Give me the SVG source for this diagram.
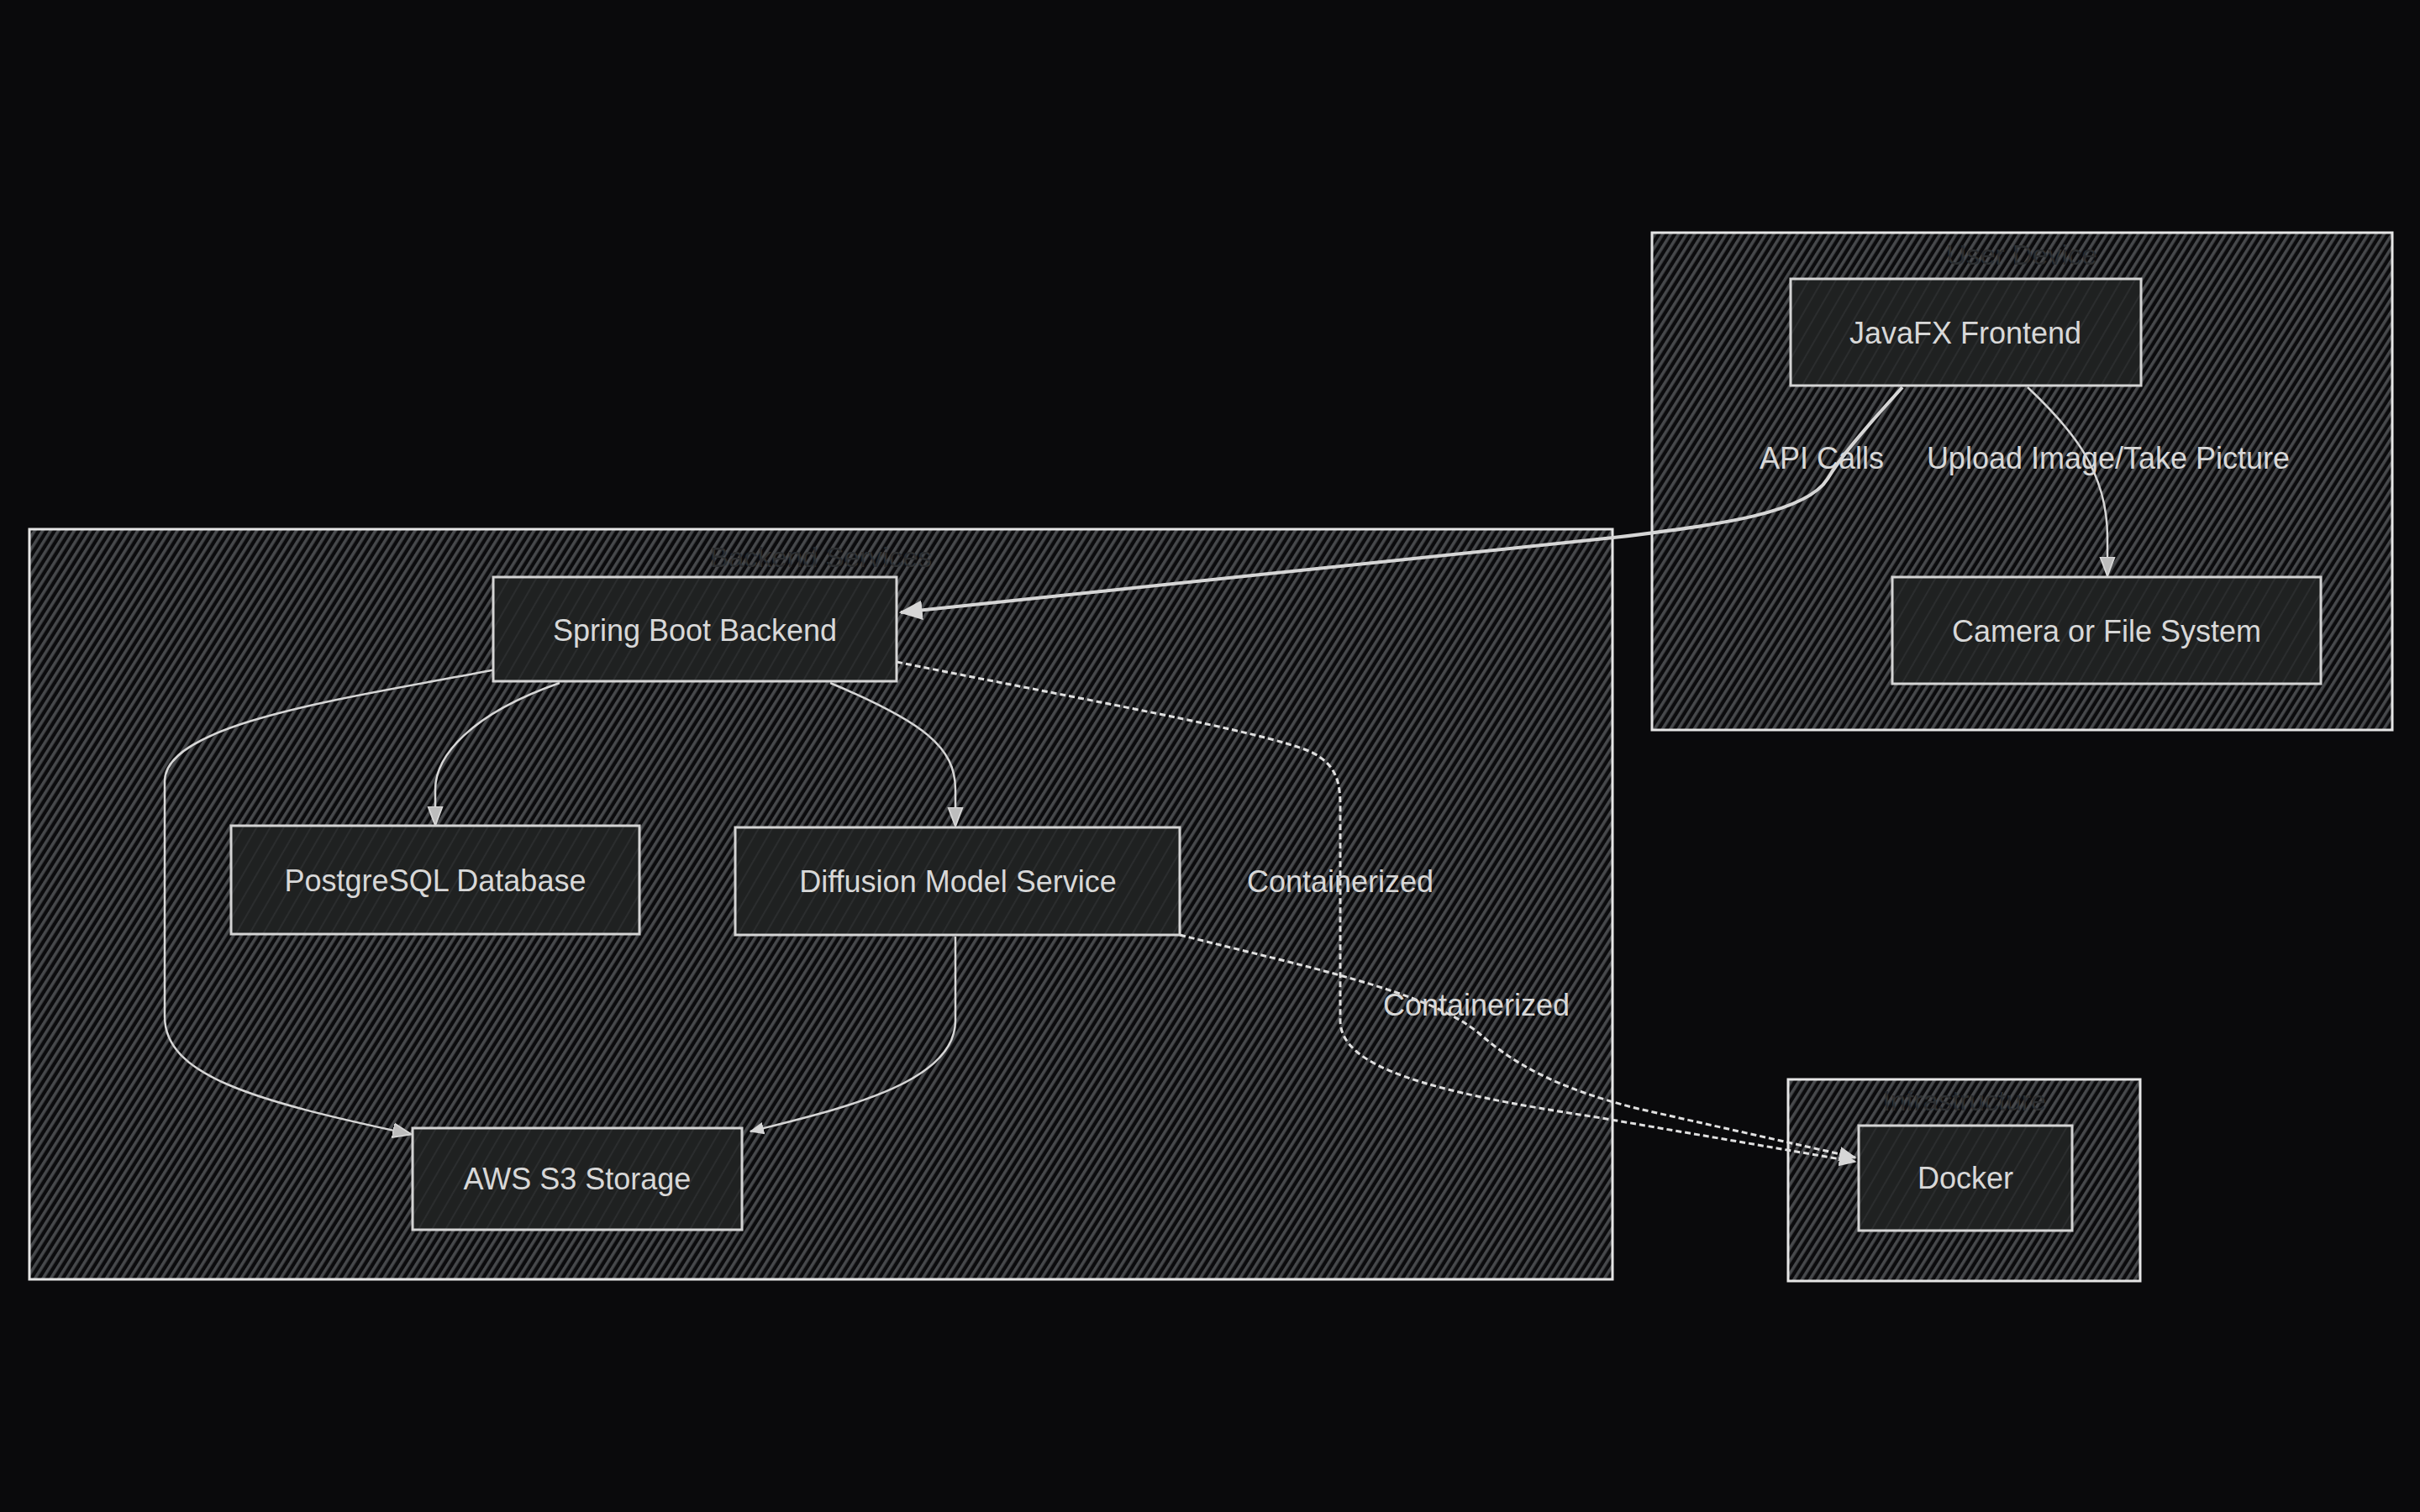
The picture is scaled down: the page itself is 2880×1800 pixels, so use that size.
<svg xmlns="http://www.w3.org/2000/svg" width="2880" height="1800" viewBox="0 0 2880 1800">
<style>
.cluster{fill:url(#hatch);stroke:#e6e6e6;stroke-width:3}
.ctitle{font-family:"Liberation Sans",Arial,sans-serif;font-size:33px;fill:#2c2e30;text-anchor:middle;dominant-baseline:central}
.node rect{fill:url(#nodehatch);stroke:#d4d4d4;stroke-width:3}
.label{font-family:"Liberation Sans",Arial,sans-serif;font-size:36px;fill:#d8d8d8;text-anchor:middle;dominant-baseline:central}
.edge{fill:none;stroke:#d6d6d6;stroke-width:2.5}
.thick{stroke-width:4}
.dash{stroke-dasharray:7 4;stroke-width:3;stroke:#e0e0e0}
.elabel{font-family:"Liberation Sans",Arial,sans-serif;font-size:36px;fill:#d8d8d8;text-anchor:middle;dominant-baseline:central}
</style>
<defs>
<pattern id="hatch" patternUnits="userSpaceOnUse" width="8" height="8" patternTransform="rotate(32)">
<rect width="8" height="8" fill="#0b0b0d"/>
<rect width="3.6" height="8" fill="#47494c"/>
</pattern>
<pattern id="nodehatch" patternUnits="userSpaceOnUse" width="14" height="14" patternTransform="rotate(30)">
<rect width="14" height="14" fill="#1f2121"/>
<rect width="2" height="14" fill="#2b2d2e"/>
</pattern>
<marker id="arr" viewBox="0 0 12 12" refX="11" refY="6" markerWidth="7" markerHeight="7" orient="auto" markerUnits="strokeWidth">
<path d="M0,1 L12,6 L0,11 Z" fill="#d6d6d6"/>
</marker>
<marker id="arrs" viewBox="0 0 12 12" refX="11" refY="6" markerWidth="9" markerHeight="9" orient="auto" markerUnits="strokeWidth">
<path d="M0,1.5 L12,6 L0,10.5 Z" fill="#bdbdbd" stroke="#d6d6d6" stroke-width="1"/>
</marker>
</defs>
<rect width="2880" height="1800" fill="#0a0a0c"/>

<g id="cluster-backend">
<rect class="cluster" x="35" y="630" width="1884" height="893"/>
<text class="ctitle" x="977" y="663">Backend Services</text>
</g>
<g id="cluster-userdevice">
<rect class="cluster" x="1966" y="277" width="881" height="592"/>
<text class="ctitle" x="2406" y="303">User Device</text>
</g>
<g id="cluster-infra">
<rect class="cluster" x="2128" y="1285" width="419" height="240"/>
<text class="ctitle" x="2338" y="1310">Infrastructure</text>
</g>

<g id="connectors">
<path class="edge thick" d="M2264,461 C2215,515 2190,545 2175,570 C2150,610 2050,625 1920,640 L1072,729" marker-end="url(#arr)"/>
<path class="edge" d="M2413,461 C2465,510 2508,560 2508,640 L2508,684" marker-end="url(#arrs)"/>
<path class="edge" d="M666,813 C560,850 518,900 518,940 L518,981" marker-end="url(#arrs)"/>
<path class="edge" d="M988,813 C1100,860 1137,890 1137,940 L1137,982" marker-end="url(#arrs)"/>
<path class="edge" d="M590,797 C420,830 196,860 196,930 L196,1210 C196,1280 300,1310 488,1350" marker-end="url(#arrs)"/>
<path class="edge" d="M1137,1115 L1137,1215 C1137,1290 1000,1320 893,1347" marker-end="url(#arr)"/>
<path class="edge dash" d="M1067,788 C1300,835 1500,870 1560,895 C1590,910 1595,930 1595,960 L1595,1215 C1595,1270 1700,1300 1900,1330 L2208,1383" marker-end="url(#arr)"/>
<path class="edge dash" d="M1404,1113 C1550,1150 1700,1180 1760,1230 C1800,1265 1850,1295 1950,1320 L2208,1378" marker-end="url(#arr)"/>
<text class="elabel" x="2168" y="545">API Calls</text>
<text class="elabel" x="2509" y="545">Upload Image/Take Picture</text>
<text class="elabel" x="1595" y="1049">Containerized</text>
<text class="elabel" x="1757" y="1196">Containerized</text>
</g>

<g id="node-javafx" class="node">
<rect x="2131" y="332" width="417" height="127"/>
<text class="label" x="2339" y="396">JavaFX Frontend</text>
</g>
<g id="node-camera" class="node">
<rect x="2252" y="687" width="510" height="127"/>
<text class="label" x="2507" y="751">Camera or File System</text>
</g>
<g id="node-springboot" class="node">
<rect x="587" y="687" width="480" height="124"/>
<text class="label" x="827" y="750">Spring Boot Backend</text>
</g>
<g id="node-postgres" class="node">
<rect x="275" y="983" width="486" height="129"/>
<text class="label" x="518" y="1048">PostgreSQL Database</text>
</g>
<g id="node-diffusion" class="node">
<rect x="875" y="985" width="529" height="128"/>
<text class="label" x="1140" y="1049">Diffusion Model Service</text>
</g>
<g id="node-s3" class="node">
<rect x="491" y="1343" width="392" height="121"/>
<text class="label" x="687" y="1403">AWS S3 Storage</text>
</g>
<g id="node-docker" class="node">
<rect x="2212" y="1340" width="254" height="125"/>
<text class="label" x="2339" y="1402">Docker</text>
</g>
</svg>
